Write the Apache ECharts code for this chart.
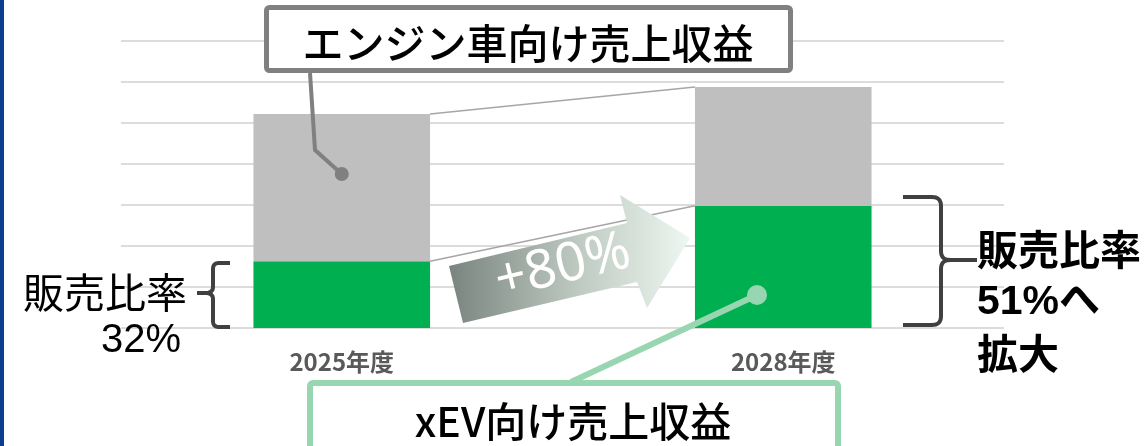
<!DOCTYPE html>
<html lang="ja">
<head>
<meta charset="utf-8">
<title>xEV向け売上収益</title>
<script src="https://cdn.jsdelivr.net/npm/echarts@6/dist/echarts.min.js"></script>
<style>
  html, body { margin: 0; padding: 0; background: #fff; }
  #chart { width: 1148px; height: 446px; }
</style>
</head>
<body>
<div id="chart"></div>
<script>
// 数値はグリッド1目盛り = 1 として読み取り
const categories = ['2025年度', '2028年度'];
const xevRevenue = [1.63, 2.98];
const engineRevenue = [3.59, 2.90];
const shareBefore = '32%';
const shareAfter = '51%へ';
const growthText = '+80%';

const JP = '"Noto Sans CJK JP", "Noto Sans", sans-serif';
const GREEN = '#00b050';
const GRAY = '#bfbfbf';
const LIGHT_GREEN = '#98d6b2';
const DARK = '#404040';

const chart = echarts.init(document.getElementById('chart'));

chart.setOption({
    animation: false,
    grid: { left: 121, right: 144, top: 41, bottom: 118 },
    xAxis: {
        type: 'category',
        data: categories,
        axisLine: { show: false },
        axisTick: { show: false },
        axisLabel: { color: '#595959', fontSize: 24, fontWeight: 'bold', fontFamily: JP, margin: 22 }
    },
    yAxis: {
        type: 'value',
        min: 0,
        max: 7,
        interval: 1,
        axisLabel: { show: false },
        axisLine: { show: false },
        axisTick: { show: false },
        splitLine: { lineStyle: { color: '#dcdcdc', width: 2 } }
    },
    series: [
        {
            name: 'xEV向け売上収益',
            type: 'bar',
            stack: 'rev',
            barWidth: '40%',
            itemStyle: { color: GREEN },
            data: xevRevenue
        },
        {
            name: 'エンジン車向け売上収益',
            type: 'bar',
            stack: 'rev',
            itemStyle: { color: GRAY },
            data: engineRevenue
        }
    ]
});

// 棒の端をつなぐ線は軸の換算から求める
const cx = categories.map((c, i) => chart.convertToPixel({ xAxisIndex: 0 }, i));
const halfBar = (cx[1] - cx[0]) * 0.2;
const yOf = v => chart.convertToPixel({ yAxisIndex: 0 }, v);
const totals = xevRevenue.map((v, i) => v + engineRevenue[i]);

const connector = (a, b) => ({
    type: 'line',
    z: 50,
    shape: { x1: cx[0] + halfBar, y1: yOf(a), x2: cx[1] - halfBar, y2: yOf(b) },
    style: { stroke: '#a6a6a6', lineWidth: 1.5 }
});

// 括弧は M / L / Q の簡易コマンドから折れ線に展開
function bracket(cmds) {
    const lines = [];
    let cur = null;
    let last = null;
    cmds.forEach(c => {
        if (c[0] === 'M') {
            cur = [[c[1], c[2]]];
            lines.push(cur);
            last = [c[1], c[2]];
        } else if (c[0] === 'L') {
            cur.push([c[1], c[2]]);
            last = [c[1], c[2]];
        } else if (c[0] === 'Q') {
            for (let i = 1; i <= 8; i++) {
                const t = i / 8;
                const u = 1 - t;
                cur.push([
                    u * u * last[0] + 2 * u * t * c[1] + t * t * c[3],
                    u * u * last[1] + 2 * u * t * c[2] + t * t * c[4]
                ]);
            }
            last = [c[3], c[4]];
        }
    });
    return lines.map(pts => ({
        type: 'polyline',
        z: 100,
        shape: { points: pts },
        style: { stroke: DARK, lineWidth: 4, fill: null, lineJoin: 'round' }
    }));
}

const leftBracket = bracket([
    ['M', 230, 263], ['L', 219, 263], ['Q', 213, 263, 213, 269], ['L', 213, 287], ['Q', 213, 293, 205, 293], ['L', 197, 293],
    ['M', 205, 293], ['Q', 213, 293, 213, 299], ['L', 213, 321], ['Q', 213, 327, 219, 327], ['L', 230, 327]
]);
const rightBracket = bracket([
    ['M', 903, 197], ['L', 932, 197], ['Q', 941, 197, 941, 206], ['L', 941, 251], ['Q', 941, 260, 950, 260], ['L', 977, 260],
    ['M', 950, 260], ['Q', 941, 260, 941, 269], ['L', 941, 316], ['Q', 941, 325, 932, 325], ['L', 903, 325]
]);

const ang = 13.5 * Math.PI / 180;

chart.setOption({
    graphic: [
        // 左端の青い線
        { type: 'rect', z: 100, shape: { x: 0, y: 0, width: 4, height: 446 }, style: { fill: '#0b3d91' } },

        connector(totals[0], totals[1]),
        connector(xevRevenue[0], xevRevenue[1]),

        // +80% の矢印
        {
            type: 'polygon',
            z: 60,
            shape: {
                points: [[449, 266], [627, 223], [620, 195], [690, 238], [647, 308], [637, 282], [463, 323]]
            },
            style: {
                fill: new echarts.graphic.LinearGradient(0, 0, 1, 0, [
                    { offset: 0, color: '#7a847f' },
                    { offset: 0.55, color: '#bfcbc3' },
                    { offset: 1, color: '#eef7f1' }
                ])
            }
        },
        {
            type: 'text',
            z: 61,
            x: 563,
            y: 267,
            rotation: ang,
            style: {
                text: growthText,
                fill: '#fff',
                font: '54px "Noto Sans", "Liberation Sans", sans-serif',
                align: 'center',
                verticalAlign: 'middle'
            }
        },

        // エンジン車向け売上収益 ラベル
        {
            type: 'rect',
            z: 100,
            shape: { x: 266.5, y: 7.5, width: 524, height: 63, r: 3 },
            style: { fill: '#fff', stroke: '#808080', lineWidth: 5 }
        },
        {
            type: 'text',
            z: 101,
            x: 528,
            y: 43,
            style: {
                text: 'エンジン車向け売上収益',
                fill: '#000',
                font: '500 41px ' + JP,
                align: 'center',
                verticalAlign: 'middle'
            }
        },
        {
            type: 'polyline',
            z: 100,
            shape: { points: [[310, 73], [315, 150], [cx[0], 174]] },
            style: { stroke: '#808080', lineWidth: 4, fill: null }
        },
        { type: 'circle', z: 100, shape: { cx: cx[0], cy: 174, r: 7 }, style: { fill: '#808080' } },

        // xEV向け売上収益 ラベル
        {
            type: 'polyline',
            z: 100,
            shape: { points: [[571, 382], [757, 295]] },
            style: { stroke: LIGHT_GREEN, lineWidth: 6, fill: null }
        },
        { type: 'circle', z: 100, shape: { cx: 757, cy: 295, r: 10 }, style: { fill: LIGHT_GREEN } },
        {
            type: 'rect',
            z: 100,
            shape: { x: 310, y: 383, width: 528, height: 90, r: 3 },
            style: { fill: '#fff', stroke: LIGHT_GREEN, lineWidth: 6 }
        },
        {
            type: 'text',
            z: 101,
            x: 573,
            y: 421,
            style: {
                text: 'xEV向け売上収益',
                fill: '#000',
                font: '500 41px ' + JP,
                align: 'center',
                verticalAlign: 'middle'
            }
        },

        // 左側 販売比率
        {
            type: 'text',
            z: 100,
            x: 105,
            y: 292,
            style: { text: '販売比率', fill: '#000', font: '41px ' + JP, align: 'center', verticalAlign: 'middle' }
        },
        {
            type: 'text',
            z: 100,
            x: 141,
            y: 341,
            style: { text: shareBefore, fill: '#000', font: '40px "Liberation Sans", "Noto Sans", sans-serif', align: 'center', verticalAlign: 'middle' }
        },
        ...leftBracket,

        // 右側 販売比率 51%へ 拡大
        ...rightBracket,
        {
            type: 'text',
            z: 100,
            x: 977,
            y: 249,
            style: { text: '販売比率', fill: '#000', font: 'bold 41px ' + JP, align: 'left', verticalAlign: 'middle' }
        },
        {
            type: 'text',
            z: 100,
            x: 977,
            y: 303,
            style: { text: shareAfter, fill: '#000', font: 'bold 41px "Liberation Sans", ' + JP, align: 'left', verticalAlign: 'middle' }
        },
        {
            type: 'text',
            z: 100,
            x: 977,
            y: 353,
            style: { text: '拡大', fill: '#000', font: 'bold 41px ' + JP, align: 'left', verticalAlign: 'middle' }
        }
    ]
});
</script>
</body>
</html>
